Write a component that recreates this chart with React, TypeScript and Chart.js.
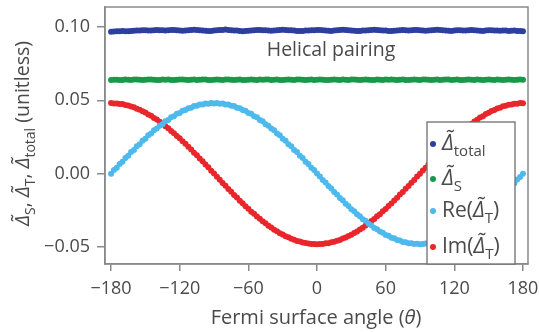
import React, { useEffect, useRef } from "react";
import { Chart, registerables } from "chart.js";

Chart.register(...registerables);

const angles = [
  -180, -177.5, -175, -172.5, -170, -167.5, -165, -162.5, -160, -157.5,
  -155, -152.5, -150, -147.5, -145, -142.5, -140, -137.5, -135, -132.5,
  -130, -127.5, -125, -122.5, -120, -117.5, -115, -112.5, -110, -107.5,
  -105, -102.5, -100, -97.5, -95, -92.5, -90, -87.5, -85, -82.5,
  -80, -77.5, -75, -72.5, -70, -67.5, -65, -62.5, -60, -57.5,
  -55, -52.5, -50, -47.5, -45, -42.5, -40, -37.5, -35, -32.5,
  -30, -27.5, -25, -22.5, -20, -17.5, -15, -12.5, -10, -7.5,
  -5, -2.5, 0, 2.5, 5, 7.5, 10, 12.5, 15, 17.5,
  20, 22.5, 25, 27.5, 30, 32.5, 35, 37.5, 40, 42.5,
  45, 47.5, 50, 52.5, 55, 57.5, 60, 62.5, 65, 67.5,
  70, 72.5, 75, 77.5, 80, 82.5, 85, 87.5, 90, 92.5,
  95, 97.5, 100, 102.5, 105, 107.5, 110, 112.5, 115, 117.5,
  120, 122.5, 125, 127.5, 130, 132.5, 135, 137.5, 140, 142.5,
  145, 147.5, 150, 152.5, 155, 157.5, 160, 162.5, 165, 167.5,
  170, 172.5, 175, 177.5, 180,
];

const deltaTotal = [
  0.0968, 0.0969, 0.097, 0.0971, 0.0972, 0.0971, 0.097, 0.0972, 0.0974, 0.0975,
  0.0976, 0.0977, 0.0978, 0.0976, 0.0975, 0.0977, 0.0979, 0.0978, 0.0977, 0.0976,
  0.0978, 0.098, 0.0979, 0.0977, 0.0975, 0.0974, 0.0976, 0.0978, 0.098, 0.0981,
  0.0979, 0.0977, 0.0976, 0.0974, 0.0972, 0.0973, 0.0975, 0.0977, 0.0979, 0.098,
  0.0982, 0.098, 0.0978, 0.0976, 0.0975, 0.0973, 0.0971, 0.0972, 0.0974, 0.0976,
  0.0978, 0.0979, 0.098, 0.0978, 0.0977, 0.0975, 0.0974, 0.0976, 0.0978, 0.0979,
  0.0981, 0.098, 0.0978, 0.0977, 0.0975, 0.0973, 0.0972, 0.0973, 0.0975, 0.0976,
  0.0978, 0.0977, 0.0979, 0.098, 0.0978, 0.0976, 0.0974, 0.0973, 0.0975, 0.0977,
  0.0979, 0.0981, 0.098, 0.0978, 0.0976, 0.0974, 0.0972, 0.0973, 0.0975, 0.0976,
  0.0978, 0.0979, 0.0981, 0.098, 0.0978, 0.0976, 0.0975, 0.0973, 0.0972, 0.0974,
  0.0976, 0.0978, 0.0979, 0.0977, 0.0976, 0.0978, 0.098, 0.0979, 0.0977, 0.0975,
  0.0974, 0.0976, 0.0978, 0.098, 0.0981, 0.0979, 0.0977, 0.0976, 0.0974, 0.0973,
  0.0975, 0.0977, 0.0978, 0.0976, 0.0975, 0.0977, 0.0979, 0.0978, 0.0976, 0.0974,
  0.0973, 0.0975, 0.0977, 0.0978, 0.0976, 0.0975, 0.0974, 0.0976, 0.0975, 0.0973,
  0.0974, 0.0975, 0.0973, 0.0972, 0.0971,
];

const deltaS = [
  0.0639, 0.064, 0.064, 0.0638, 0.0639, 0.0641, 0.064, 0.0639, 0.0641, 0.0642,
  0.064, 0.0639, 0.064, 0.0641, 0.0642, 0.064, 0.0638, 0.0639, 0.0641, 0.064,
  0.0641, 0.0639, 0.0638, 0.064, 0.0641, 0.0642, 0.064, 0.0639, 0.064, 0.0641,
  0.0639, 0.064, 0.0642, 0.0641, 0.0639, 0.0638, 0.064, 0.0641, 0.064, 0.0639,
  0.0641, 0.0642, 0.064, 0.0639, 0.064, 0.0641, 0.0639, 0.0638, 0.064, 0.0641,
  0.064, 0.0639, 0.0641, 0.064, 0.0642, 0.0641, 0.0639, 0.064, 0.0641, 0.0639,
  0.0638, 0.064, 0.0641, 0.064, 0.0639, 0.0641, 0.0642, 0.064, 0.0639, 0.064,
  0.0641, 0.0639, 0.064, 0.0642, 0.064, 0.0639, 0.0638, 0.064, 0.0641, 0.064,
  0.0639, 0.0641, 0.064, 0.0639, 0.0641, 0.0642, 0.064, 0.0639, 0.064, 0.0641,
  0.064, 0.0638, 0.0639, 0.0641, 0.064, 0.0639, 0.0641, 0.064, 0.0642, 0.064,
  0.0639, 0.064, 0.0641, 0.0639, 0.0638, 0.064, 0.0641, 0.064, 0.0639, 0.0641,
  0.0642, 0.064, 0.0639, 0.064, 0.0641, 0.0639, 0.064, 0.0642, 0.0641, 0.0639,
  0.064, 0.0641, 0.0639, 0.0638, 0.064, 0.0641, 0.064, 0.0639, 0.0641, 0.064,
  0.0639, 0.064, 0.0641, 0.064, 0.0639, 0.0641, 0.064, 0.0639, 0.064, 0.0641,
  0.064, 0.0639, 0.064, 0.0641, 0.064,
];

const reDeltaT = [
  0.0, 0.0024, 0.004, 0.0066, 0.0081, 0.0107, 0.0122, 0.0147, 0.0162, 0.0187,
  0.0201, 0.0225, 0.0238, 0.0261, 0.0273, 0.0295, 0.0307, 0.0327, 0.0337, 0.0357,
  0.0366, 0.0384, 0.0391, 0.0408, 0.0414, 0.0429, 0.0433, 0.0446, 0.0449, 0.0461,
  0.0462, 0.0471, 0.0471, 0.0479, 0.0476, 0.0482, 0.0478, 0.0482, 0.0476, 0.0478,
  0.0471, 0.0472, 0.0462, 0.0461, 0.0449, 0.0446, 0.0433, 0.0429, 0.0414, 0.0408,
  0.0391, 0.0384, 0.0366, 0.0357, 0.0337, 0.0327, 0.0307, 0.0295, 0.0273, 0.0261,
  0.0238, 0.0225, 0.0201, 0.0187, 0.0162, 0.0147, 0.0122, 0.0107, 0.0081, 0.0066,
  0.004, 0.0024, 0.0001, -0.0019, -0.0044, -0.0061, -0.0085, -0.0102, -0.0126, -0.0142,
  -0.0166, -0.0182, -0.0205, -0.022, -0.0242, -0.0256, -0.0277, -0.029, -0.0311, -0.0322,
  -0.0341, -0.0352, -0.037, -0.0379, -0.0395, -0.0403, -0.0418, -0.0424, -0.0437, -0.0441,
  -0.0453, -0.0456, -0.0466, -0.0467, -0.0475, -0.0474, -0.048, -0.0478, -0.0482, -0.0479,
  -0.0477, -0.0478, -0.0471, -0.047, -0.0462, -0.046, -0.0449, -0.0445, -0.0433, -0.0428,
  -0.0414, -0.0407, -0.0391, -0.0383, -0.0366, -0.0356, -0.0337, -0.0326, -0.0307, -0.0294,
  -0.0273, -0.026, -0.0238, -0.0224, -0.0201, -0.0186, -0.0162, -0.0146, -0.0122, -0.0106,
  -0.0081, -0.0065, -0.004, -0.0023, 0.0,
];

const imDeltaT = [
  0.0481, 0.0479, 0.0479, 0.0475, 0.0474, 0.0468, 0.0465, 0.0457, 0.0452, 0.0442,
  0.0436, 0.0425, 0.0417, 0.0404, 0.0394, 0.038, 0.0369, 0.0353, 0.034, 0.0323,
  0.031, 0.0291, 0.0276, 0.0257, 0.0241, 0.0221, 0.0204, 0.0183, 0.0165, 0.0143,
  0.0125, 0.0103, 0.0084, 0.0062, 0.0043, 0.002, 0.0001, -0.0022, -0.0041, -0.0064,
  -0.0082, -0.0105, -0.0123, -0.0145, -0.0163, -0.0185, -0.0202, -0.0223, -0.0239, -0.0259,
  -0.0274, -0.0293, -0.0308, -0.0325, -0.0338, -0.0355, -0.0367, -0.0382, -0.0392, -0.0406,
  -0.0415, -0.0427, -0.0434, -0.0444, -0.045, -0.0459, -0.0463, -0.047, -0.0472, -0.0477,
  -0.0479, -0.0479, -0.0481, -0.0479, -0.0479, -0.0475, -0.0474, -0.0468, -0.0465, -0.0457,
  -0.0452, -0.0442, -0.0436, -0.0425, -0.0417, -0.0404, -0.0394, -0.038, -0.0369, -0.0353,
  -0.034, -0.0323, -0.031, -0.0291, -0.0276, -0.0257, -0.0241, -0.0221, -0.0204, -0.0183,
  -0.0165, -0.0143, -0.0125, -0.0103, -0.0084, -0.0062, -0.0043, -0.002, -0.0001, 0.0022,
  0.0041, 0.0064, 0.0082, 0.0105, 0.0123, 0.0145, 0.0163, 0.0185, 0.0202, 0.0223,
  0.0239, 0.0259, 0.0274, 0.0293, 0.0308, 0.0325, 0.0338, 0.0355, 0.0367, 0.0382,
  0.0392, 0.0406, 0.0415, 0.0427, 0.0434, 0.0444, 0.045, 0.0459, 0.0463, 0.047,
  0.0472, 0.0477, 0.0477, 0.0481, 0.048,
];

const xTicks = [-180, -120, -60, 0, 60, 120, 180];
const yTicks = [-0.05, 0, 0.05, 0.1];
const seriesLabels = ["Δ̃total", "Δ̃S", "Re(Δ̃T)", "Im(Δ̃T)"];
const annotationText = "Helical pairing";

const FONT = '"Open Sans", sans-serif';
const TEXT = "#4a4a4a";
const AXIS = "#8a8a8a";
const COLORS = ["#2d3f9e", "#17994a", "#4db9ec", "#e8262b"];

type Seg = { t: string; it?: boolean; sub?: boolean };

function segFont(s: Seg, size: number) {
  const sz = s.sub ? Math.round(size * 0.72) : size;
  return `${s.it ? "italic " : ""}${sz}px ${FONT}`;
}

function richWidth(ctx: CanvasRenderingContext2D, segs: Seg[], size: number) {
  let w = 0;
  for (const s of segs) {
    ctx.font = segFont(s, size);
    w += ctx.measureText(s.t).width;
  }
  return w;
}

function drawRich(
  ctx: CanvasRenderingContext2D,
  segs: Seg[],
  x: number,
  y: number,
  size: number,
  align: "left" | "center"
) {
  const w = richWidth(ctx, segs, size);
  let cx = align === "center" ? x - w / 2 : x;
  ctx.textAlign = "left";
  ctx.textBaseline = "alphabetic";
  for (const s of segs) {
    ctx.font = segFont(s, size);
    ctx.fillText(s.t, cx, y + (s.sub ? size * 0.3 : 0));
    cx += ctx.measureText(s.t).width;
  }
}

const D = "Δ̃";
const legendSegs: Seg[][] = [
  [{ t: D, it: true }, { t: "total", sub: true }],
  [{ t: D, it: true }, { t: "S", sub: true }],
  [{ t: "Re(" }, { t: D, it: true }, { t: "T", sub: true }, { t: ")" }],
  [{ t: "Im(" }, { t: D, it: true }, { t: "T", sub: true }, { t: ")" }],
];

const decorPlugin = {
  id: "decor",
  afterDatasetsDraw(chart: any) {
    const ctx: CanvasRenderingContext2D = chart.ctx;
    const a = chart.chartArea;
    ctx.save();
    ctx.strokeStyle = AXIS;
    ctx.lineWidth = 1.5;
    ctx.strokeRect(a.left, a.top, a.right - a.left, a.bottom - a.top);

    ctx.fillStyle = TEXT;
    ctx.font = `19.5px ${FONT}`;
    ctx.textAlign = "center";
    ctx.textBaseline = "middle";
    ctx.fillText(annotationText, 331, 50);

    const lx = 427, ly = 122, lw = 88, lh = a.bottom - ly;
    ctx.fillStyle = "#ffffff";
    ctx.fillRect(lx, ly, lw, lh);
    ctx.strokeStyle = "#6f6f6f";
    ctx.lineWidth = 1.3;
    ctx.strokeRect(lx, ly, lw, lh);
    const rows = [143, 178, 210, 246];
    rows.forEach((ry, i) => {
      ctx.fillStyle = COLORS[i];
      ctx.beginPath();
      ctx.arc(lx + 6, ry + 1, 3, 0, Math.PI * 2);
      ctx.fill();
      ctx.fillStyle = TEXT;
      drawRich(ctx, legendSegs[i], lx + 15, ry + 7, 21, "left");
    });

    ctx.fillStyle = TEXT;
    drawRich(
      ctx,
      [{ t: "Fermi surface angle (" }, { t: "θ", it: true }, { t: ")" }],
      316,
      324,
      20,
      "center"
    );

    ctx.translate(22, (a.top + a.bottom) / 2 - 2);
    ctx.rotate(-Math.PI / 2);
    drawRich(
      ctx,
      [
        { t: D, it: true },
        { t: "S", sub: true },
        { t: ", " },
        { t: D, it: true },
        { t: "T", sub: true },
        { t: ", " },
        { t: D, it: true },
        { t: "total", sub: true },
        { t: " (unitless)" },
      ],
      0,
      7,
      19.5,
      "center"
    );
    ctx.restore();
  },
};

function fmtY(v: number) {
  const s = Math.abs(v).toFixed(2);
  return v < -1e-9 ? "\u2212" + s : s;
}
function fmtX(v: number) {
  return v < 0 ? "\u2212" + Math.abs(v) : String(v);
}

export default function App() {
  const ref = useRef<HTMLCanvasElement>(null);
  useEffect(() => {
    document.body.style.margin = "0";
    const seriesY = [deltaTotal, deltaS, reDeltaT, imDeltaT];
    const chart = new Chart(ref.current!, {
      type: "scatter",
      data: {
        datasets: seriesY.map((ys, i) => ({
          label: seriesLabels[i],
          data: angles.map((x, j) => ({ x, y: ys[j] })),
          backgroundColor: COLORS[i],
          borderWidth: 0,
          pointRadius: 3,
          pointHoverRadius: 3,
        })),
      },
      options: {
        animation: false,
        responsive: false,
        events: [],
        layout: { padding: { top: 7, right: 11, left: 0, bottom: 0 } },
        plugins: { legend: { display: false }, tooltip: { enabled: false } },
        scales: {
          x: {
            type: "linear",
            min: -185.3,
            max: 184.4,
            afterBuildTicks: (s: any) => {
              s.ticks = xTicks.map((v) => ({ value: v }));
            },
            afterFit: (s: any) => {
              s.height = 68;
              s.paddingLeft = 0;
              s.paddingRight = 0;
            },
            ticks: {
              color: TEXT,
              font: { family: FONT, size: 18 },
              padding: 7,
              maxRotation: 0,
              callback: (v: any) => fmtX(Number(v)),
            },
            grid: {
              display: true,
              drawOnChartArea: false,
              drawTicks: true,
              tickLength: 7,
              color: AXIS,
              lineWidth: 1.5,
            },
            border: { display: true, color: AXIS, width: 1.5 },
          },
          y: {
            type: "linear",
            min: -0.0616,
            max: 0.1136,
            afterBuildTicks: (s: any) => {
              s.ticks = yTicks.map((v) => ({ value: v }));
            },
            afterFit: (s: any) => {
              s.width = 105;
              s.paddingTop = 0;
              s.paddingBottom = 0;
            },
            ticks: {
              color: TEXT,
              font: { family: FONT, size: 18 },
              padding: 7,
              callback: (v: any) => fmtY(Number(v)),
            },
            grid: {
              display: true,
              drawOnChartArea: false,
              drawTicks: true,
              tickLength: 8,
              color: AXIS,
              lineWidth: 1.5,
            },
            border: { display: true, color: AXIS, width: 1.5 },
          },
        },
      },
      plugins: [decorPlugin],
    } as any);
    return () => chart.destroy();
  }, []);
  return (
    <div style={{ width: 539, height: 332, background: "#fff" }}>
      <canvas ref={ref} width={539} height={332} style={{ display: "block" }} />
    </div>
  );
}
